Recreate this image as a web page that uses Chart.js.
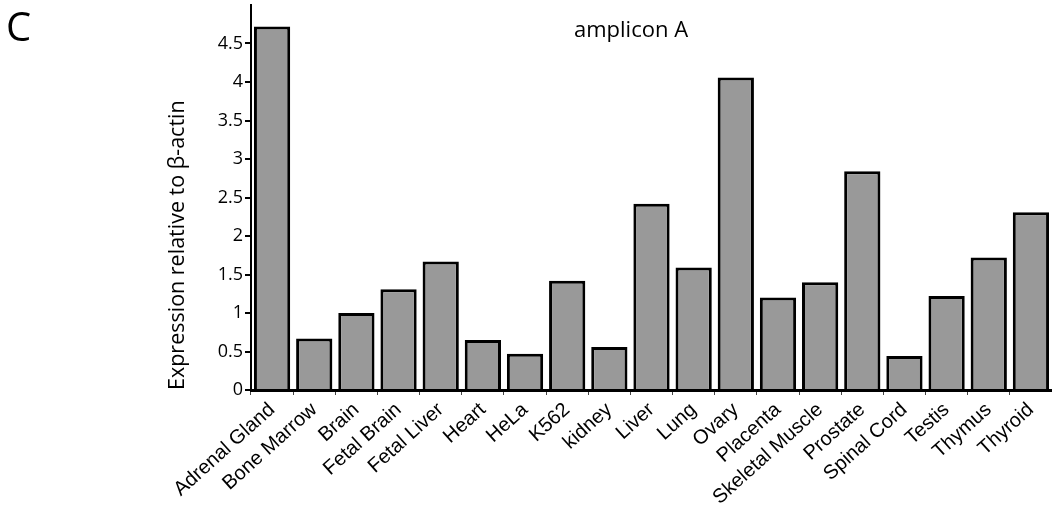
<!DOCTYPE html>
<html>
<head>
<meta charset="utf-8">
<title>amplicon A</title>
<script src="https://cdn.jsdelivr.net/npm/chart.js@4"></script>
<style>
  body { margin: 0; background: #fff; }
  #wrap { position: relative; width: 1052px; height: 511px; }
  #panel { position: absolute; left: 6px; top: 6px; font: 40px/1 'Open Sans', sans-serif; color: #000; }
  #title { position: absolute; left: 574px; top: 17px; font: 22px/1 'Open Sans', sans-serif; color: #000; }
</style>
</head>
<body>
<div id="wrap">
  <canvas id="expressionChart" width="1052" height="511"></canvas>
  <div id="panel">C</div>
  <div id="title">amplicon A</div>
</div>
<script>
'use strict';

var tissues = ['Adrenal Gland', 'Bone Marrow', 'Brain', 'Fetal Brain', 'Fetal Liver', 'Heart', 'HeLa', 'K562', 'kidney', 'Liver',
  'Lung', 'Ovary', 'Placenta', 'Skeletal Muscle', 'Prostate', 'Spinal Cord', 'Testis', 'Thymus', 'Thyroid'];
var expression = [4.72, 0.67, 1.0, 1.31, 1.67, 0.65, 0.47, 1.42, 0.56, 2.42,
  1.59, 4.06, 1.2, 1.4, 2.84, 0.44, 1.22, 1.72, 2.31];
var yTicks = [0, 0.5, 1, 1.5, 2, 2.5, 3, 3.5, 4, 4.5];
var yMax = 5;

var ctx = document.getElementById('expressionChart').getContext('2d');

var chartData = {
  labels: tissues,
  datasets: [{
    data: expression,
    backgroundColor: '#999999',
    borderColor: '#000000',
    borderWidth: 3,
    barPercentage: 0.86,
    categoryPercentage: 1,
  }],
};

var chartOptions = {
  responsive: false,
  devicePixelRatio: 1,
  animation: false,
  layout: {
    padding: { left: 0, top: 5, right: 0, bottom: 0 },
  },
  plugins: {
    legend: { display: false },
    tooltip: { enabled: false },
  },
  scales: {
    x: {
      grid: { drawOnChartArea: false, drawTicks: true, tickLength: 5, color: '#444', lineWidth: 1 },
      border: { display: true, color: '#000', width: 3 },
      ticks: {
        autoSkip: false,
        minRotation: 42,
        maxRotation: 42,
        padding: 3,
        color: '#000',
        font: { family: "'Liberation Sans', Arial, sans-serif", size: 20 },
      },
      afterFit: function(scale) {
        scale.height = 121;
        scale.paddingLeft = 0;
        scale.paddingRight = 0;
      },
    },
    y: {
      min: 0,
      max: yMax,
      grid: { drawOnChartArea: false, drawTicks: true, tickLength: 6, color: '#000', lineWidth: 2 },
      border: { display: true, color: '#000', width: 2 },
      ticks: {
        padding: 2,
        color: '#000',
        font: { family: "'Open Sans', sans-serif", size: 18 },
        callback: function(value) { return String(value); },
      },
      afterBuildTicks: function(axis) {
        axis.ticks = yTicks.map(function(v) { return { value: v }; });
      },
      title: {
        display: true,
        text: 'Expression relative to β-actin',
        align: 'start',
        color: '#000',
        padding: { top: 165, bottom: 0 },
        font: { family: "'Open Sans', sans-serif", size: 21.5 },
      },
      afterFit: function(scale) {
        scale.width = 251;
        scale.paddingTop = 0;
        scale.paddingBottom = 0;
      },
    },
  },
};

var expressionChart = new Chart(ctx, {
  type: 'bar',
  data: chartData,
  options: chartOptions,
});
</script>
</body>
</html>
